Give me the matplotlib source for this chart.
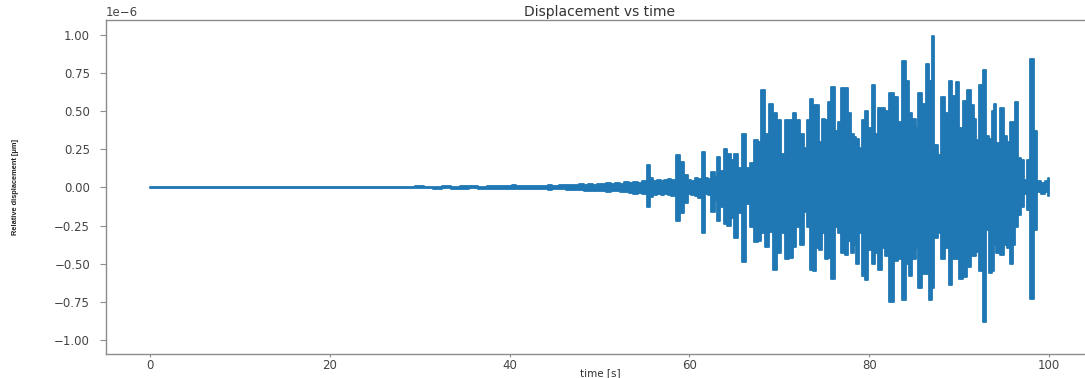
import numpy as np
import matplotlib
matplotlib.use("Agg")
import matplotlib.pyplot as plt
from matplotlib.ticker import MultipleLocator

# Envelope of the displacement signal (units of 1e-6)
t_env = [0, 2, 4, 6, 8, 10, 12, 14, 16, 18, 20, 22, 24, 26, 28, 29, 30, 31, 32, 33,
         34, 35, 36, 37, 38, 39, 40, 40.5, 41, 42, 43, 44, 44.5, 45, 46, 46.5, 47, 47.5,
         48, 48.5, 49, 49.5, 50, 50.5, 51, 51.5, 52, 52.5, 53, 53.5, 54, 54.5, 55, 55.5,
         55.8, 56.2, 56.6, 57.0, 57.4, 57.8, 58.2, 58.8, 59.2, 59.6, 60.0, 60.4, 60.8, 61.2,
         61.5, 61.9, 62.2, 62.6, 63.0, 63.2, 63.6, 64.0, 64.4, 64.8, 65.2, 65.6, 66.0, 66.5,
         66.9, 67.5, 67.8, 68.2, 68.6, 69.1, 69.5, 70.0, 70.4, 70.9, 71.3, 71.7, 72.1, 72.6,
         72.9, 73.3, 73.5, 73.9, 74.2, 74.6, 74.9, 75.3, 75.6, 76.0, 76.3, 76.7, 77.1, 77.4,
         77.8, 78.1, 78.4, 78.7, 79.0, 79.3, 79.7, 80.1, 80.5, 80.8, 81.2, 81.6, 82.0, 82.5,
         83.0, 83.4, 83.9, 84.3, 84.6, 85.0, 85.3, 85.6, 86.1, 86.6, 86.8, 87.1, 87.4, 87.8,
         88.2, 88.7, 89.1, 89.4, 89.8, 90.2, 90.6, 91.1, 91.5, 91.7, 92.1, 92.4, 92.8, 93.2,
         93.4, 93.8, 94.0, 94.3, 94.8, 95.1, 95.5, 95.8, 96.1, 96.4, 96.7, 97.1, 97.4, 97.6,
         98.1, 98.5, 98.9, 99.3, 99.7, 100.0]
upper = [0.002, 0.002, 0.002, 0.002, 0.003, 0.003, 0.002, 0.003, 0.003, 0.004, 0.004, 0.003,
         0.004, 0.005, 0.006, 0.004, 0.007, 0.006, 0.005, 0.007, 0.006, 0.008, 0.007, 0.006,
         0.009, 0.008, 0.010, 0.014, 0.009, 0.011, 0.010, 0.012, 0.017, 0.011, 0.014, 0.013,
         0.018, 0.015, 0.020, 0.016, 0.022, 0.018, 0.024, 0.020, 0.028, 0.022, 0.030, 0.025,
         0.035, 0.028, 0.038, 0.030, 0.042, 0.145, 0.060, 0.045, 0.050, 0.040, 0.048, 0.055,
         0.050, 0.215, 0.170, 0.080, 0.050, 0.040, 0.060, 0.055, 0.230, 0.060, 0.055, 0.100,
         0.070, 0.200, 0.110, 0.255, 0.220, 0.180, 0.220, 0.130, 0.350, 0.130, 0.160, 0.310,
         0.300, 0.640, 0.350, 0.550, 0.490, 0.440, 0.220, 0.440, 0.440, 0.490, 0.440, 0.350,
         0.260, 0.440, 0.580, 0.540, 0.540, 0.300, 0.450, 0.440, 0.560, 0.660, 0.370, 0.430,
         0.650, 0.650, 0.490, 0.350, 0.330, 0.320, 0.260, 0.440, 0.500, 0.390, 0.670, 0.350,
         0.520, 0.520, 0.500, 0.620, 0.590, 0.430, 0.830, 0.700, 0.490, 0.450, 0.390, 0.620,
         0.550, 0.810, 0.700, 0.990, 0.280, 0.210, 0.590, 0.490, 0.700, 0.600, 0.690, 0.390,
         0.570, 0.640, 0.540, 0.450, 0.310, 0.670, 0.770, 0.340, 0.320, 0.500, 0.550, 0.290,
         0.520, 0.340, 0.300, 0.430, 0.430, 0.560, 0.190, 0.180, 0.050, 0.180, 0.840, 0.370,
         0.040, 0.030, 0.040, 0.060]
lower = [-0.002, -0.002, -0.002, -0.003, -0.002, -0.003, -0.003, -0.003, -0.004, -0.003,
         -0.004, -0.004, -0.005, -0.004, -0.005, -0.006, -0.006, -0.005, -0.007, -0.006,
         -0.008, -0.007, -0.006, -0.008, -0.007, -0.009, -0.008, -0.013, -0.010, -0.009,
         -0.012, -0.010, -0.016, -0.013, -0.012, -0.015, -0.016, -0.018, -0.017, -0.020,
         -0.024, -0.021, -0.020, -0.025, -0.030, -0.024, -0.026, -0.032, -0.030, -0.034,
         -0.040, -0.036, -0.045, -0.130, -0.060, -0.050, -0.042, -0.048, -0.040, -0.050,
         -0.058, -0.220, -0.170, -0.100, -0.045, -0.050, -0.055, -0.070, -0.300, -0.045,
         -0.050, -0.160, -0.080, -0.220, -0.130, -0.240, -0.250, -0.200, -0.330, -0.170,
         -0.490, -0.110, -0.260, -0.360, -0.350, -0.300, -0.390, -0.290, -0.540, -0.430,
         -0.300, -0.470, -0.460, -0.390, -0.260, -0.380, -0.160, -0.260, -0.540, -0.550,
         -0.400, -0.410, -0.300, -0.470, -0.460, -0.600, -0.260, -0.300, -0.430, -0.440,
         -0.350, -0.430, -0.380, -0.500, -0.300, -0.580, -0.610, -0.410, -0.500, -0.430,
         -0.540, -0.400, -0.450, -0.750, -0.480, -0.470, -0.740, -0.500, -0.580, -0.470,
         -0.400, -0.660, -0.570, -0.570, -0.740, -0.660, -0.330, -0.300, -0.470, -0.400,
         -0.640, -0.470, -0.470, -0.600, -0.590, -0.520, -0.450, -0.450, -0.420, -0.550,
         -0.880, -0.280, -0.560, -0.550, -0.380, -0.430, -0.440, -0.380, -0.400, -0.500,
         -0.380, -0.260, -0.180, -0.130, -0.040, -0.150, -0.730, -0.280, -0.030, -0.040,
         -0.030, -0.055]

x_ticks = [0, 20, 40, 60, 80, 100]
title = "Displacement vs time"
xlabel = "time [s]"
ylabel = "Relative displacement [μm]"

t_arr = np.asarray(t_env)
up = np.asarray(upper) * 1e-6
lo = np.asarray(lower) * 1e-6

color = '#1f77b4'
plt.rcParams['font.family'] = ['DejaVu Sans']
fig = plt.figure(figsize=(10.85, 3.78), dpi=100)
ax = fig.add_axes([106 / 1085, 24 / 378, 988 / 1085, 334 / 378])

# The densely oscillating trace fills the band between its peaks
ax.fill_between(t_arr, lo, up, step='mid', facecolor=color, edgecolor=color,
                linewidth=1.3, antialiased=True)

ax.set_xlim(-4.9, 105)
ax.set_ylim(-1.092e-6, 1.098e-6)
ax.set_xticks(x_ticks)
ax.yaxis.set_major_locator(MultipleLocator(0.25e-6))

spine_col = '#8c8c8c'
for side in ['left', 'bottom', 'top', 'right']:
    ax.spines[side].set_color(spine_col)
    ax.spines[side].set_linewidth(1.0)

ax.tick_params(axis='y', length=4.5, width=0.8, color=spine_col, labelsize=8.5,
               labelcolor='#444444', pad=7)
ax.tick_params(axis='x', length=2.5, width=0.8, color=spine_col, labelsize=8.5,
               labelcolor='#444444', pad=1.0)
ax.yaxis.get_offset_text().set_fontsize(8.5)
ax.yaxis.get_offset_text().set_color('#444444')

ax.set_title(title, fontsize=10, color='#333333', pad=3)
ax.set_xlabel(xlabel, fontsize=7.5, color='#333333', labelpad=-3)
ax.set_ylabel(ylabel, fontsize=5.3, color='#222222', fontweight='bold',
              family=['Liberation Sans', 'DejaVu Sans'], labelpad=25)

fig.savefig("out.png", dpi=100)
